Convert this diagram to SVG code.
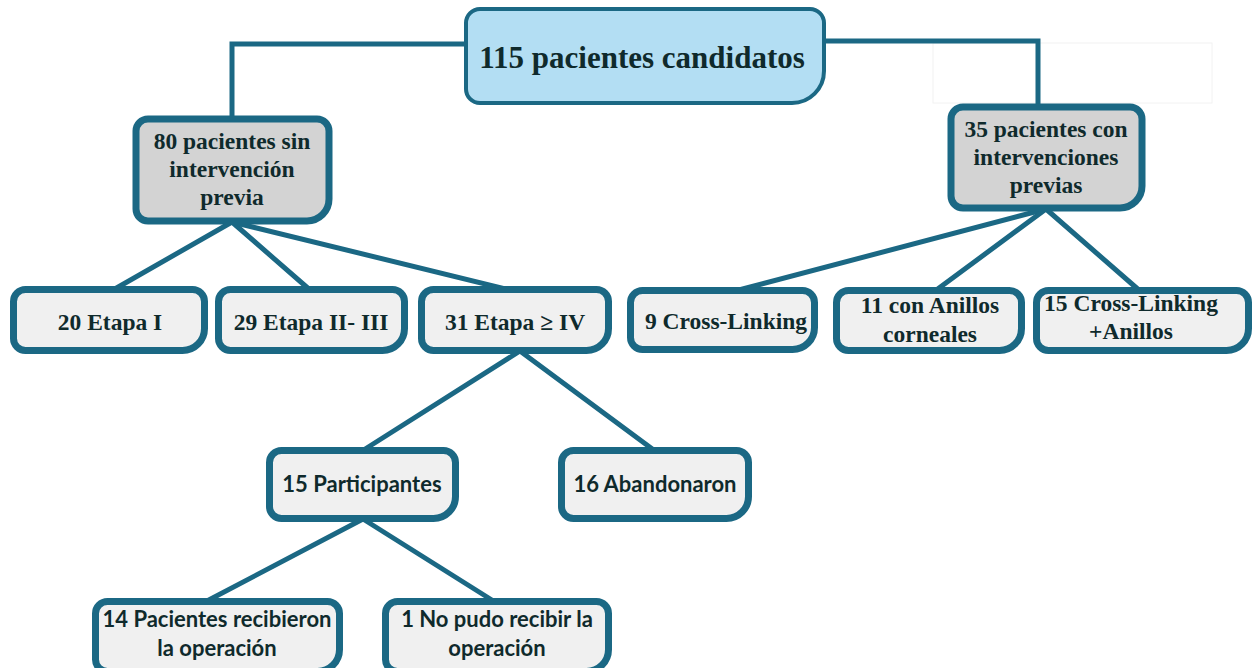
<svg xmlns="http://www.w3.org/2000/svg" width="1254" height="668" viewBox="0 0 1254 668">
<style>
.box{stroke:#1b6884;stroke-width:7;fill:#f0f0f0;stroke-linejoin:round}
.mid{fill:#d3d3d3}
.top{fill:#b3def3;stroke-width:4}
.ln{stroke:#1b6884;stroke-width:5;fill:none;stroke-linecap:round;stroke-linejoin:miter}
.serif{font-family:"Liberation Serif","Times New Roman",serif;font-weight:bold;fill:#0f2a2c;text-anchor:middle;font-size:23.5px}
.sans{font-family:"Lato","Open Sans","Liberation Sans",sans-serif;font-weight:bold;fill:#0f2a2c;text-anchor:middle;font-size:22px}
</style>
<rect width="1254" height="668" fill="#ffffff"/>
<rect x="933" y="43" width="279" height="60" fill="none" stroke="#f2f2f2" stroke-width="1"/>
<g id="connectors">
<polyline class="ln" points="466,44 232,44 232,119" stroke-width="4"/>
<polyline class="ln" points="824,41 1038,41 1038,107" stroke-width="4"/>
<line class="ln" x1="232" y1="222" x2="113" y2="290"/>
<line class="ln" x1="232" y1="222" x2="310" y2="290"/>
<line class="ln" x1="232" y1="222" x2="510" y2="290"/>
<line class="ln" x1="1046" y1="209" x2="735" y2="291"/>
<line class="ln" x1="1046" y1="209" x2="935" y2="291"/>
<line class="ln" x1="1046" y1="209" x2="1140" y2="291"/>
<line class="ln" x1="520" y1="351" x2="362" y2="451"/>
<line class="ln" x1="520" y1="351" x2="655" y2="451"/>
<line class="ln" x1="363" y1="519" x2="205" y2="602"/>
<line class="ln" x1="363" y1="519" x2="495" y2="602"/>
</g>
<g id="n115">
<path class="box top" d="M480,9 H810 A14,14 0 0 1 824,23 V71 A32,32 0 0 1 792,103 H480 A14,14 0 0 1 466,89 V23 A14,14 0 0 1 480,9 Z"/>
<text class="serif" x="642" y="68" style="font-size:31px">115 pacientes candidatos</text>
</g>
<g id="n80">
<path class="box mid" d="M148,119 H317 A12,12 0 0 1 329,131 V199 A22,22 0 0 1 307,221 H148 A12,12 0 0 1 136,209 V131 A12,12 0 0 1 148,119 Z"/>
<text class="serif" x="232" y="149">80 pacientes sin</text>
<text class="serif" x="232" y="177">intervención</text>
<text class="serif" x="232" y="205">previa</text>
</g>
<g id="n35">
<path class="box mid" d="M963,107 H1130 A12,12 0 0 1 1142,119 V186 A22,22 0 0 1 1120,208 H963 A12,12 0 0 1 951,196 V119 A12,12 0 0 1 963,107 Z"/>
<text class="serif" x="1046" y="137">35 pacientes con</text>
<text class="serif" x="1046" y="165">intervenciones</text>
<text class="serif" x="1046" y="193">previas</text>
</g>
<g id="e1">
<path class="box" d="M25.5,289.5 H192.5 A12,12 0 0 1 204.5,301.5 V328.5 A22,22 0 0 1 182.5,350.5 H25.5 A12,12 0 0 1 13.5,338.5 V301.5 A12,12 0 0 1 25.5,289.5 Z"/>
<text class="serif" x="110" y="330">20 Etapa I</text>
</g>
<g id="e2">
<path class="box" d="M230.5,289.5 H392.5 A12,12 0 0 1 404.5,301.5 V328.5 A22,22 0 0 1 382.5,350.5 H230.5 A12,12 0 0 1 218.5,338.5 V301.5 A12,12 0 0 1 230.5,289.5 Z"/>
<text class="serif" x="311" y="330">29 Etapa II- III</text>
</g>
<g id="e3">
<path class="box" d="M433.5,289.5 H596.5 A12,12 0 0 1 608.5,301.5 V328.5 A22,22 0 0 1 586.5,350.5 H433.5 A12,12 0 0 1 421.5,338.5 V301.5 A12,12 0 0 1 433.5,289.5 Z"/>
<text class="serif" x="515" y="330">31 Etapa ≥ IV</text>
</g>
<g id="cl9">
<path class="box" d="M642.5,290.5 H802.5 A12,12 0 0 1 814.5,302.5 V327.5 A22,22 0 0 1 792.5,349.5 H642.5 A12,12 0 0 1 630.5,337.5 V302.5 A12,12 0 0 1 642.5,290.5 Z"/>
<text class="serif" x="726" y="329">9 Cross-Linking</text>
</g>
<g id="a11">
<path class="box" d="M848.5,290.5 H1009.5 A12,12 0 0 1 1021.5,302.5 V328.5 A22,22 0 0 1 999.5,350.5 H848.5 A12,12 0 0 1 836.5,338.5 V302.5 A12,12 0 0 1 848.5,290.5 Z"/>
<text class="serif" x="930" y="313">11 con Anillos</text>
<text class="serif" x="930" y="342">corneales</text>
</g>
<g id="cla">
<path class="box" d="M1048.5,290.5 H1236.5 A12,12 0 0 1 1248.5,302.5 V328.5 A22,22 0 0 1 1226.5,350.5 H1048.5 A12,12 0 0 1 1036.5,338.5 V302.5 A12,12 0 0 1 1048.5,290.5 Z"/>
<text class="serif" x="1131" y="311">15 Cross-Linking</text>
<text class="serif" x="1131" y="339">+Anillos</text>
</g>
<g id="p15">
<path class="box" d="M281.5,450.5 H443.5 A12,12 0 0 1 455.5,462.5 V496.5 A22,22 0 0 1 433.5,518.5 H281.5 A12,12 0 0 1 269.5,506.5 V462.5 A12,12 0 0 1 281.5,450.5 Z"/>
<text class="sans" x="362" y="492">15 Participantes</text>
</g>
<g id="a16">
<path class="box" d="M573.5,450.5 H736.5 A12,12 0 0 1 748.5,462.5 V496.5 A22,22 0 0 1 726.5,518.5 H573.5 A12,12 0 0 1 561.5,506.5 V462.5 A12,12 0 0 1 573.5,450.5 Z"/>
<text class="sans" x="655" y="492">16 Abandonaron</text>
</g>
<g id="r14">
<path class="box" d="M107.5,601.5 H327.5 A12,12 0 0 1 339.5,613.5 V649.5 A22,22 0 0 1 317.5,671.5 H107.5 A12,12 0 0 1 95.5,659.5 V613.5 A12,12 0 0 1 107.5,601.5 Z"/>
<text class="sans" x="217" y="627">14 Pacientes recibieron</text>
<text class="sans" x="217" y="656">la operación</text>
</g>
<g id="n1">
<path class="box" d="M397.5,601.5 H596.5 A12,12 0 0 1 608.5,613.5 V649.5 A22,22 0 0 1 586.5,671.5 H397.5 A12,12 0 0 1 385.5,659.5 V613.5 A12,12 0 0 1 397.5,601.5 Z"/>
<text class="sans" x="497" y="627">1 No pudo recibir la</text>
<text class="sans" x="497" y="656">operación</text>
</g>
</svg>
